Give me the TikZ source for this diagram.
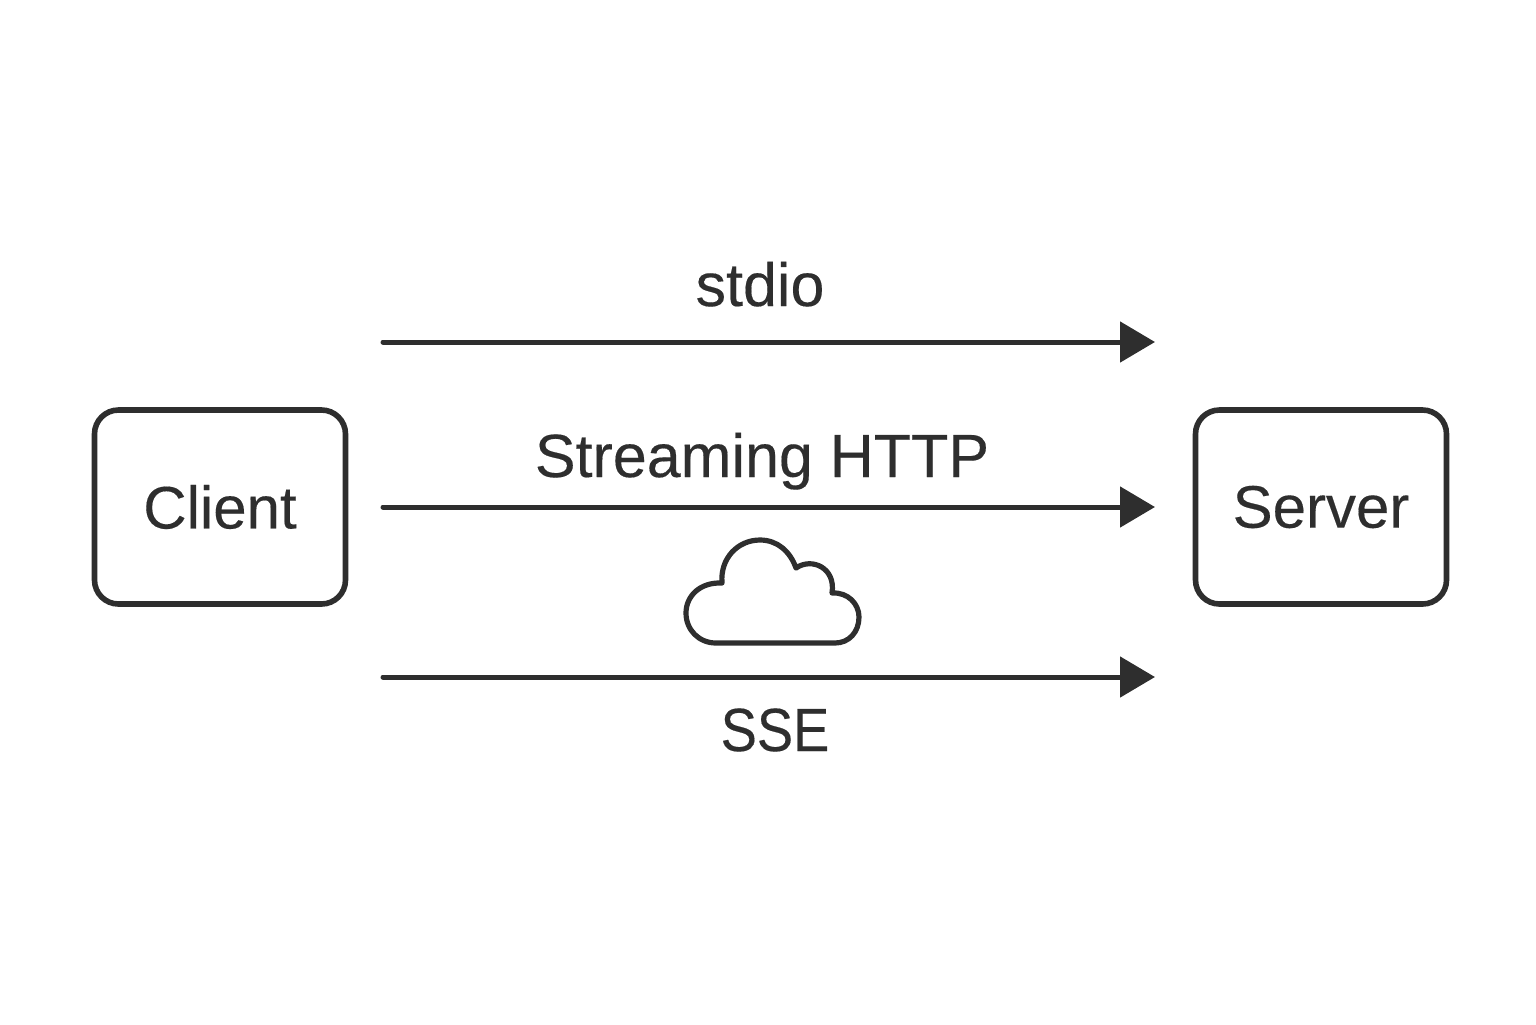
\documentclass[tikz,border=0pt]{standalone}
\usepackage{fontspec}
\setmainfont[FakeBold=0.25]{Liberation Sans}
\newfontface\ssefont[FakeBold=0.25,FakeStretch=0.89]{Liberation Sans}
\usetikzlibrary{arrows.meta}
\definecolor{ink}{HTML}{2E2E2E}
\tikzset{
  px/.style={x=0.5pt,y=-0.5pt},
  boxn/.style={draw=ink,line width=2.8pt,rounded corners=12pt,minimum width=125.5pt,minimum height=97pt,inner sep=0pt,text=ink,font=\fontsize{30}{36}\selectfont},
  lab/.style={text=ink,font=\fontsize{30.5}{36}\selectfont,inner sep=0pt,anchor=base},
  conn/.style={draw=ink,line width=2.5pt,line cap=round,-{Triangle[length=17.5pt,width=20pt]}}
}
\begin{document}
\begin{tikzpicture}[px]
\useasboundingbox (0,0) rectangle (1536,1024);
\node[boxn] (client) at (220,507) {Client};
\node[boxn] (server) at (1321,507) {Server};
\coordinate (a1) at (383,342); \coordinate (b1) at (1155,342);
\coordinate (a2) at (383,507); \coordinate (b2) at (1155,507);
\coordinate (a3) at (383,677); \coordinate (b3) at (1155,677);
\draw[conn] (a1) -- (b1);
\draw[conn] (a2) -- (b2);
\draw[conn] (a3) -- (b3);
\node[lab] (stdio) at (760,306) {stdio};
\node[lab] (http) at (762,477) {Streaming HTTP};
\node[lab] (sse) at (775,751) {\ssefont SSE};
\draw[ink,line width=2.6pt,line join=round] (716,643) .. controls (699,643) and (686,630) .. (686,613) .. controls (686,596) and (700,582) .. (722,583) .. controls (720,558) and (738,540) .. (760,540) .. controls (777,540) and (790,551) .. (796,568) .. controls (812,557) and (836,568) .. (832,593) .. controls (848,592) and (859,604) .. (859,617) .. controls (859,632) and (849,643) .. (835,643) -- cycle;
\end{tikzpicture}
\end{document}
